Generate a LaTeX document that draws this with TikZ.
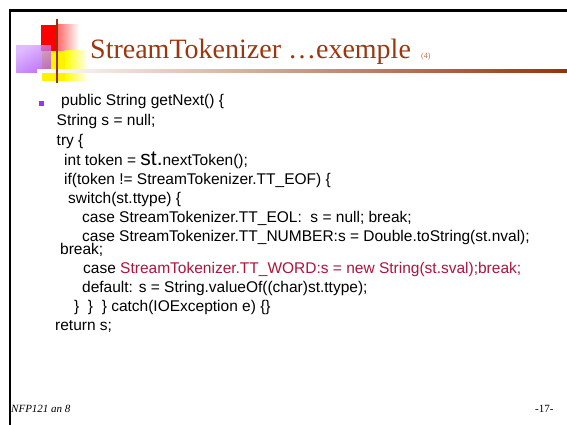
\documentclass[tikz,border=0pt]{standalone}
\usepackage{fontspec}
\setmainfont{Liberation Serif}
\setsansfont{Liberation Sans}
\definecolor{titlebrown}{RGB}{155,55,15}
\definecolor{barbrown}{RGB}{150,50,10}
\definecolor{wordred}{RGB}{175,20,60}
\definecolor{bulletpurple}{RGB}{153,51,255}
\definecolor{lightpurple}{RGB}{215,165,255}
\definecolor{deeppurple}{RGB}{165,70,245}
\begin{document}
\begin{tikzpicture}[x=1pt,y=-1pt,
  code/.style={anchor=base west, inner sep=0pt, font=\sffamily\fontsize{15.5}{15.5}\selectfont},
  titletext/.style={anchor=base west, inner sep=0pt, text=titlebrown, font=\rmfamily\fontsize{28}{28}\selectfont},
  foot/.style={anchor=base west, inner sep=0pt, font=\rmfamily\fontsize{11}{11}\selectfont}]
\useasboundingbox (0,0) rectangle (567,425);
\fill[white] (0,0) rectangle (567,425);

% slide frame
\draw[line width=2.5pt] (10,425) -- (10,10.5) -- (567,10.5);

% logo blocks
\fill[red] (41,25) rectangle (57,51);
\shade[left color=red!60, right color=white] (57,25) rectangle (79,51);
\fill[yellow] (42,51) rectangle (65,81);
\shade[left color=yellow, right color=white] (65,51) rectangle (88,81);
\shade[top color=lightpurple, bottom color=deeppurple, shading angle=30, opacity=0.75] (16,46) rectangle (51,73);
% title underline
\shade[left color=white, right color=barbrown] (37,69.8) rectangle (567,72.2);
\fill[barbrown] (56,19) rectangle (58.2,83);

% title
\node[titletext] (title) at (90,59) {StreamTokenizer …exemple};
\node[titletext, text=titlebrown!70, font=\rmfamily\fontsize{8}{8}\selectfont] (num) at (421,59) {(4)};

% code listing
\fill[bulletpurple] (38.5,101) rectangle (44,106.5);
\node[code] (l1) at (61,106) {public String getNext() \{};
\node[code] (l2) at (56.5,125) {String s = null;};
\node[code] (l3) at (56.5,145) {try \{};
\node[code] (l4) at (64,165) {int token = {\fontsize{21}{21}\selectfont st.}nextToken();};
\node[code] (l5) at (64,184) {if(token != StreamTokenizer.TT\_EOF) \{};
\node[code] (l6) at (68,203) {switch(st.ttype) \{};
\node[code] (l7) at (82,222) {case StreamTokenizer.TT\_EOL:\ \ s = null; break;};
\node[code] (l8) at (82,241) {case StreamTokenizer.TT\_NUMBER:s = Double.toString(st.nval);};
\node[code] (l9) at (60,254) {break;};
\node[code] (l10) at (83,273) {case \textcolor{wordred}{StreamTokenizer.TT\_WORD:s = new String(st.sval);break;}};
\node[code] (l11) at (82,292) {default: s = String.valueOf((char)st.ttype);};
\node[code] (l12) at (74,311) {\}\ \ \}\ \ \} catch(IOException e) \{\}};
\node[code] (l13) at (55,330) {return s;};

% footer
\node[foot, font=\rmfamily\itshape\fontsize{11}{11}\selectfont] (fl) at (11,412) {NFP121 an 8};
\node[foot] (fr) at (535,412) {-17-};
\end{tikzpicture}
\end{document}
